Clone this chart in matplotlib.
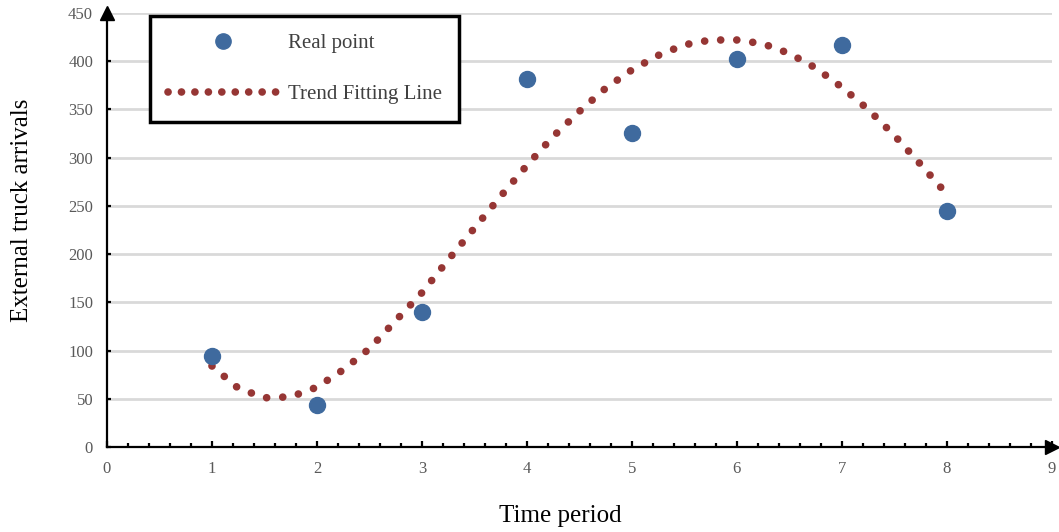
import matplotlib
matplotlib.use('Agg')
import matplotlib.pyplot as plt
from matplotlib.ticker import MultipleLocator
from matplotlib.lines import Line2D

plt.rcParams['font.family'] = ['Liberation Serif', 'DejaVu Serif']

# --- data ---
periods = [1, 2, 3, 4, 5, 6, 7, 8]
arrivals = [94, 44, 140, 382, 326, 402, 417, 245]

trend_x = [1.0, 1.25, 1.5, 1.75, 2.0, 2.25, 2.5, 2.75, 3.0, 3.25, 3.5, 3.75,
           4.0, 4.25, 4.5, 4.75, 5.0, 5.25, 5.5, 5.75, 6.0, 6.25, 6.5, 6.75,
           7.0, 7.25, 7.5, 7.75, 8.0]
trend_y = [84, 61, 51, 52, 62, 80, 102, 131, 160, 194, 227, 260,
           292, 322, 348, 372, 391, 406, 417, 422, 422, 418, 408, 393,
           373, 350, 323, 293, 262]

blue = '#3F6A9E'
red = '#963634'
tick_gray = '#595959'

fig = plt.figure(figsize=(10.59, 5.32), dpi=100)
ax = fig.add_axes([0.101, 0.1598, 0.8923, 0.8158])

ax.plot(trend_x, trend_y, color=red, lw=5.5, dashes=(0.01, 2.1),
        dash_capstyle='round', zorder=3)
ax.plot(periods, arrivals, 'o', color=blue, ms=11.5, mec=blue, zorder=4)

ax.set_xlim(0, 9)
ax.set_ylim(0, 450)
ax.xaxis.set_major_locator(MultipleLocator(1))
ax.xaxis.set_minor_locator(MultipleLocator(0.2))
ax.yaxis.set_major_locator(MultipleLocator(50))

ax.yaxis.grid(True, color='#D9D9D9', lw=2)
ax.set_axisbelow(True)

for s in ['top', 'right']:
    ax.spines[s].set_visible(False)
for s in ['left', 'bottom']:
    ax.spines[s].set_linewidth(1.6)
    ax.spines[s].set_color('black')

ax.tick_params(axis='x', which='major', direction='in', length=4, width=1.6,
               pad=10, labelsize=12, labelcolor=tick_gray)
ax.tick_params(axis='x', which='minor', direction='in', length=3, width=1.6)
ax.tick_params(axis='y', which='major', direction='in', length=3, width=1.6,
               pad=10, labelsize=12, labelcolor=tick_gray)

# arrow heads at ends of axes
ax.plot(1, 0, '>', color='black', ms=10, transform=ax.get_yaxis_transform(), clip_on=False)
ax.plot(0, 1, '^', color='black', ms=10, transform=ax.get_xaxis_transform(), clip_on=False)

ax.set_xlabel('Time period', fontsize=18)
ax.set_ylabel('External truck arrivals', fontsize=18)
ax.xaxis.set_label_coords(0.48, -0.159)
ax.xaxis.label.set_va('center')
ax.yaxis.set_label_coords(-0.09, 0.545)
ax.yaxis.label.set_va('center')

# legend
h_point = Line2D([], [], ls='none', marker='o', color=blue, ms=11)
h_trend = Line2D([], [], color=red, lw=5.5, dashes=(0.01, 1.75), dash_capstyle='round')
leg = ax.legend([h_point, h_trend], ['Real point', 'Trend Fitting Line'], loc='upper left',
                bbox_to_anchor=(150 / 1059, 1 - 16 / 532), bbox_transform=fig.transFigure,
                fontsize=15, frameon=True, fancybox=False, edgecolor='black', framealpha=1,
                handlelength=5.3, handletextpad=0.45, labelspacing=1.5,
                borderpad=0.85, borderaxespad=0, numpoints=1)
leg.get_frame().set_linewidth(2.5)
for t in leg.get_texts():
    t.set_color('#404040')

fig.savefig('out.png', dpi=100)
